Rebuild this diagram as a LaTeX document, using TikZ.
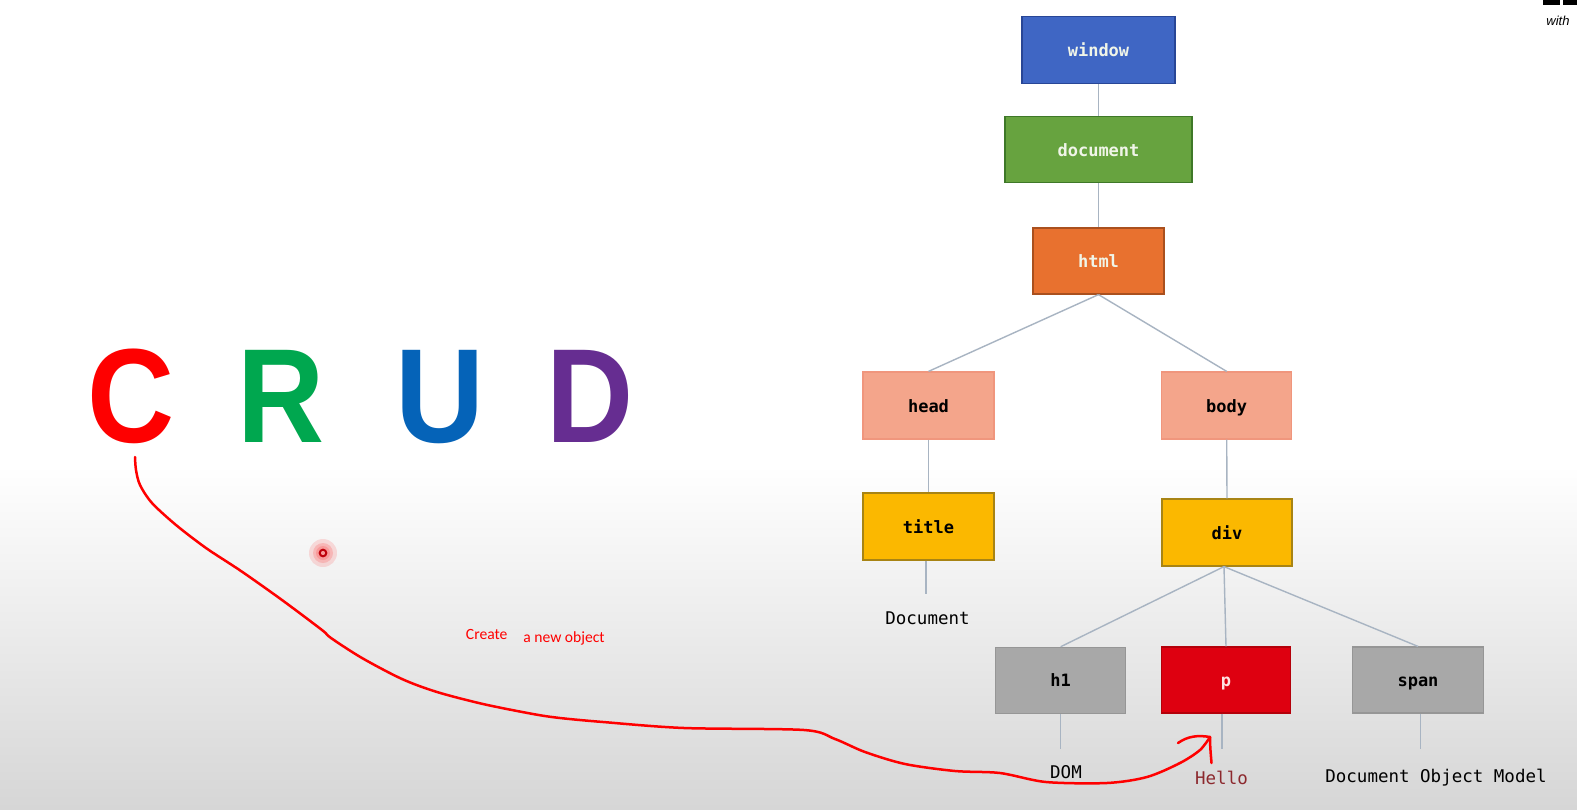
\documentclass[tikz,border=0pt]{standalone}
\usepackage{fontspec}
\setmainfont{Liberation Sans}
\newfontfamily\monofont{DejaVu Sans Mono}
\newfontfamily\notefont{Carlito}
\usetikzlibrary{calc}
\definecolor{edgecol}{RGB}{168,180,194}
\definecolor{winfill}{RGB}{63,102,196}
\definecolor{windraw}{RGB}{40,70,150}
\definecolor{docfill}{RGB}{103,163,63}
\definecolor{docdraw}{RGB}{62,120,40}
\definecolor{htmlfill}{RGB}{232,113,47}
\definecolor{htmldraw}{RGB}{170,80,30}
\definecolor{salmon}{RGB}{244,165,139}
\definecolor{salmondraw}{RGB}{240,150,125}
\definecolor{amber}{RGB}{251,184,0}
\definecolor{amberdraw}{RGB}{168,132,20}
\definecolor{grayfill}{RGB}{168,168,168}
\definecolor{graydraw}{RGB}{150,150,150}
\definecolor{pfill}{RGB}{222,0,16}
\definecolor{pdraw}{RGB}{180,0,10}
\definecolor{lighttext}{RGB}{240,245,232}
\definecolor{hellocol}{RGB}{140,40,45}
\definecolor{cred}{RGB}{254,0,0}
\definecolor{rgreen}{RGB}{0,167,79}
\definecolor{ublue}{RGB}{5,99,184}
\definecolor{dpurple}{RGB}{102,45,145}
\definecolor{bggray}{RGB}{214,214,214}
\begin{document}
\begin{tikzpicture}[x=1pt,y=-1pt,
  tbox/.style={draw, line width=1.2pt, inner sep=0pt, minimum height=66pt,
    text height=14pt, text depth=1pt,
    font=\monofont\bfseries\fontsize{17}{20}\selectfont},
  edge/.style={draw=edgecol, line width=1.4pt},
  leaf/.style={font=\monofont\fontsize{17.5}{20}\selectfont, text=black},
  crud/.style={anchor=base, font=\bfseries\fontsize{134}{134}\selectfont},
  note/.style={font=\notefont\fontsize{15.6}{18}\selectfont, text=red},
  pen/.style={draw=red, line width=2.5pt, line cap=round, line join=round}
]
% background
\useasboundingbox (0,0) rectangle (1577,809);
\fill[white] (0,0) rectangle (1577,809);
\shade[top color=white, bottom color=bggray] (0,465) rectangle (1577,809);

% logo fragment
\fill[black] (1543,0) rectangle (1560,5);
\fill[black] (1563,0) rectangle (1577,5);
\node[anchor=center, font=\itshape\fontsize{13}{13}\selectfont] (logo) at (1558,21) {with};

% CRUD letters
\node[crud, text=cred]    (C) at (131,442) {\scalebox{0.9}[1]{C}};
\node[crud, text=rgreen]  (R) at (281.5,442) {\scalebox{0.9}[1]{R}};
\node[crud, text=ublue]   (U) at (440,442) {\scalebox{0.92}[1]{U}};
\node[crud, text=dpurple] (D) at (590,442) {\scalebox{0.9}[1]{D}};

% tree nodes
\node[tbox, fill=winfill, draw=windraw, text=lighttext, minimum width=153pt, minimum height=67pt] (window) at (1098.5,50.3) {window};
\node[tbox, fill=docfill, draw=docdraw, text=lighttext, minimum width=187pt] (document) at (1098.5,149.7) {document};
\node[tbox, fill=htmlfill, draw=htmldraw, text=lighttext, minimum width=131pt] (html) at (1098.5,261) {html};
\node[tbox, fill=salmon, draw=salmondraw, text=black, minimum width=131pt, minimum height=67pt] (head) at (928.5,405.5) {head};
\node[tbox, fill=salmon, draw=salmondraw, text=black, minimum width=130pt, minimum height=67pt] (body) at (1226.7,405.5) {body};
\node[tbox, fill=amber, draw=amberdraw, text=black, minimum width=131pt, minimum height=67pt] (title) at (928.5,526.5) {title};
\node[tbox, fill=amber, draw=amberdraw, text=black, minimum width=130pt, minimum height=67pt] (div) at (1227,532.5) {div};
\node[tbox, fill=grayfill, draw=graydraw, text=black, minimum width=130pt] (h1) at (1060.7,680.3) {h1};
\node[tbox, fill=pfill, draw=pdraw, text={rgb,255:red,255;green,225;blue,225}, minimum width=128.5pt] (p) at (1226,680) {p};
\node[tbox, fill=grayfill, draw=graydraw, text=black, minimum width=131pt] (span) at (1418,680) {span};

% leaf ends
\coordinate (titleend) at (926,594);
\coordinate (h1end) at (1060.7,749);
\coordinate (pend) at (1222,749);
\coordinate (spanend) at (1420.5,749);

\node[leaf] (doctext) at (927.5,618) {Document};
\node[leaf] (domtext) at (1066,772) {DOM};
\node[leaf, text=hellocol] (hellotext) at (1221.5,778) {Hello};
\node[leaf] (dommodel) at (1436,778) {Document Object Model};

% connectors
\draw[edge] (window.south) -- (document.north);
\draw[edge] (document.south) -- (html.north);
\draw[edge] (html.south) -- (head.north);
\draw[edge] (html.south) -- (body.north);
\draw[edge] (head.south) -- (title.north);
\draw[edge] (body.south) -- (div.north);
\draw[edge] ($(div.south)+(-3,0)$) -- (h1.north);
\draw[edge] ($(div.south)+(-3,0)$) -- (p.north);
\draw[edge] ($(div.south)+(-3,0)$) -- (span.north);
\draw[edge] (title.south -| titleend) -- (titleend);
\draw[edge] (h1.south) -- (h1end);
\draw[edge] (p.south -| pend) -- (pend);
\draw[edge] (span.south -| spanend) -- (spanend);

% annotation text
\node[note, anchor=center] (create) at (486.7,634) {Create};
\node[note, anchor=center] (newobj) at (564,638) {a new object};

% pointer dot
\fill[red, opacity=0.12] (323,553) circle (14);
\fill[red, opacity=0.15] (323,553) circle (10);
\fill[red, opacity=0.15] (323,553) circle (7);
\draw[draw={rgb,255:red,190;green,0;blue,10}, line width=2pt] (323,553) circle (3.3);

% hand-drawn red arrow
\coordinate (penstart) at (135,457);
\coordinate (pentip) at (1210,737);
\draw[pen] plot[smooth, tension=0.5] coordinates {
  (135,457) (136,470) (140,485) (152,503) (176,525) (206,548) (241,571)
  (282,600) (322,630) (331,638) (362,658) (402,679) (437,692) (483,704)
  (533,714) (560,718) (603,722) (684,728) (804,730) (835,739) (865,752)
  (905,764) (955,771) (1000,773) (1046,782) (1107,783) (1147,777)
  (1180,763) (1200,750) (1210,737)};
\draw[pen] (1178,743) .. controls (1188,736) and (1198,735) .. (pentip);
\draw[pen] (pentip) .. controls (1210,748) and (1211,756) .. (1211.5,763);
\end{tikzpicture}
\end{document}
